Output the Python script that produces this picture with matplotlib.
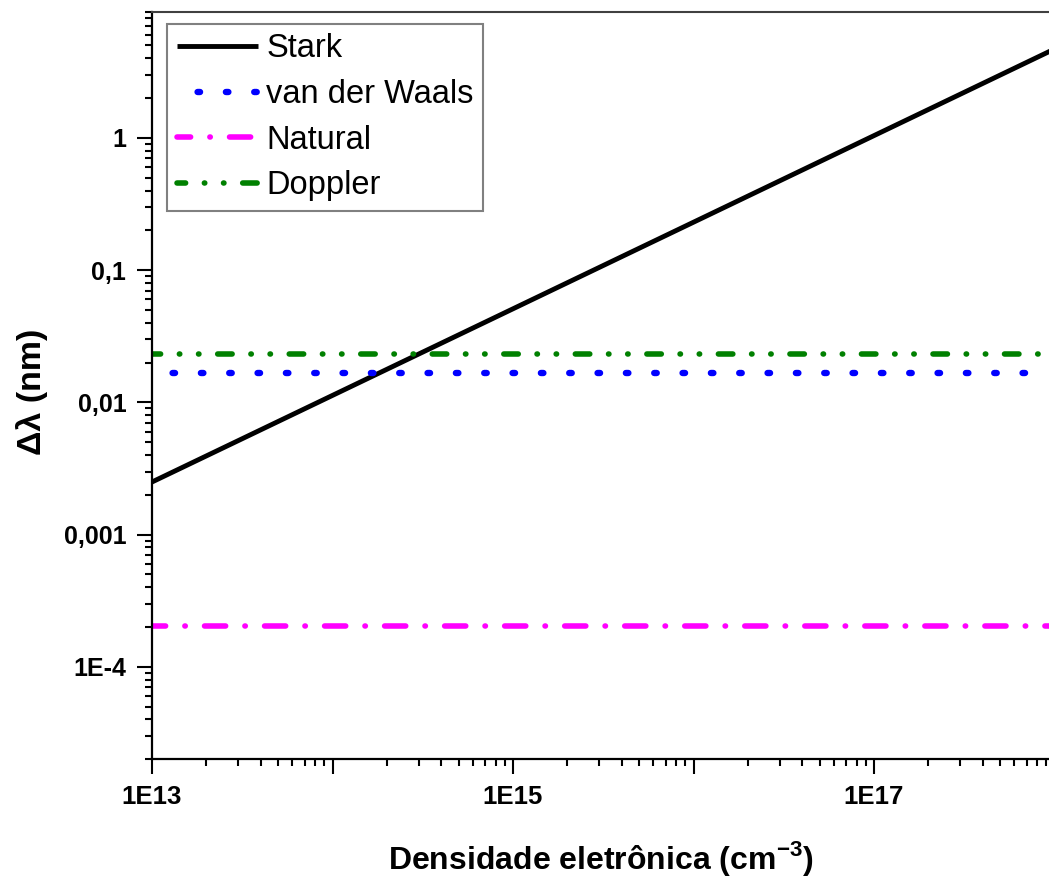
import numpy as np
import matplotlib
matplotlib.use("Agg")
import matplotlib.pyplot as plt
from matplotlib.ticker import FixedLocator, FixedFormatter, LogLocator, NullFormatter

# data
density = [1e13, 1e18]          # cm^-3
stark = [0.0025, 4.7]           # nm
van_der_waals = [0.0166, 0.0166]
natural = [2.02e-4, 2.02e-4]
doppler = [0.0233, 0.0233]

x_ticks = [1e13, 1e14, 1e15, 1e16, 1e17, 1e18]
x_ticklabels = ["1E13", "", "1E15", "", "1E17", ""]
y_ticks = [1e-4, 1e-3, 1e-2, 1e-1, 1]
y_ticklabels = ["1E-4", "0,001", "0,01", "0,1", "1"]

plt.rcParams['font.family'] = ['Liberation Sans', 'DejaVu Sans']
plt.rcParams['mathtext.fontset'] = 'custom'
plt.rcParams['mathtext.rm'] = 'Liberation Sans:bold'
plt.rcParams['mathtext.bf'] = 'Liberation Sans:bold'
plt.rcParams['lines.scale_dashes'] = False

W, H = 1049, 884
fig = plt.figure(figsize=(W / 100, H / 100), dpi=100)
ax = fig.add_axes([152 / W, (H - 759.3) / H, 902.5 / W, 747.6 / H])

ax.plot(density, stark, color='black', lw=3.5, label='Stark', solid_capstyle='butt')
ax.plot(density, van_der_waals, color='#0000FF', lw=4.6, label='van der Waals',
        ls=(5.6, (1.8, 18.6)), dash_capstyle='round')
ax.plot(density, natural, color='#FF00FF', lw=4.0, label='Natural',
        ls=(5.4, (15.2, 13.86, 0.3, 13.86)), dash_capstyle='round')
ax.plot(density, doppler, color='#008000', lw=4.0, label='Doppler',
        ls=(4.2, (10.4, 13.5, 0.3, 13.5, 0.3, 13.5)), dash_capstyle='round')

ax.set_xscale('log')
ax.set_yscale('log')
ax.set_xlim(1e13, 1e18)
ax.set_ylim(2e-5, 9)

ax.xaxis.set_major_locator(FixedLocator(x_ticks))
ax.xaxis.set_major_formatter(FixedFormatter(x_ticklabels))
ax.xaxis.set_minor_locator(LogLocator(base=10, subs=np.arange(2, 10), numticks=100))
ax.xaxis.set_minor_formatter(NullFormatter())
ax.yaxis.set_major_locator(FixedLocator(y_ticks))
ax.yaxis.set_major_formatter(FixedFormatter(y_ticklabels))
ax.yaxis.set_minor_locator(LogLocator(base=10, subs=np.arange(2, 10), numticks=100))
ax.yaxis.set_minor_formatter(NullFormatter())

ax.tick_params(which='both', direction='out', top=False, right=False, width=1.5, color='black')
ax.tick_params(which='major', length=10.5)
ax.tick_params(which='minor', length=5)
ax.tick_params(axis='x', which='major', pad=8, labelsize=18.5)
ax.tick_params(axis='y', which='major', pad=8, labelsize=18)
for lab in ax.get_xticklabels() + ax.get_yticklabels():
    lab.set_fontweight('bold')

for side in ['left', 'bottom']:
    ax.spines[side].set_linewidth(1.6)
ax.spines['top'].set_linewidth(1.5)
ax.spines['top'].set_color('#404040')

ax.set_xlabel('Densidade eletrônica (cm$^{-3}$)', fontsize=23, fontweight='bold')
ax.xaxis.set_label_coords(0.4975, -0.106)
ax.set_ylabel('Δλ (nm)', fontsize=24.5, fontweight='bold')
ax.yaxis.set_label_coords(-0.115, 0.492)

leg = ax.legend(loc='upper left', bbox_to_anchor=(167 / W, 1 - 23.5 / H),
                bbox_transform=fig.transFigure, fontsize=23.5, handlelength=2.48,
                handletextpad=0.26, borderaxespad=0, borderpad=0.3, labelspacing=0.45,
                fancybox=False, framealpha=1)
leg.get_frame().set_edgecolor('#808080')
leg.get_frame().set_linewidth(1.5)

fig.savefig('out.png', dpi=100)
